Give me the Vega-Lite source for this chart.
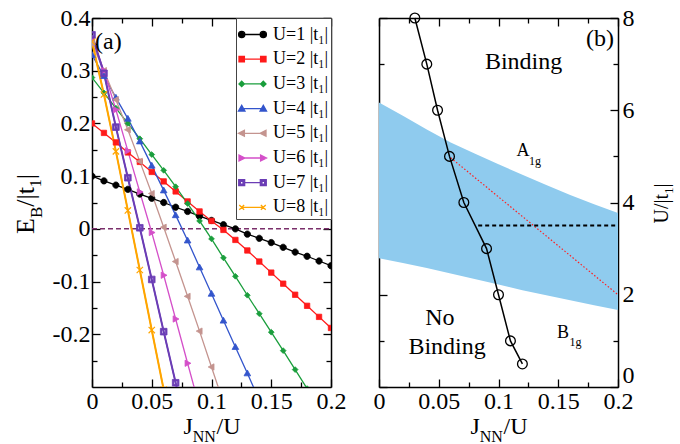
{
  "$schema": "https://vega.github.io/schema/vega-lite/v6.json",
  "padding": {"left": 12, "top": 6, "right": 0, "bottom": 0},
  "spacing": 48,
  "bounds": "flush",
  "config": {
    "view": {"stroke": null},
    "font": "Liberation Serif",
    "axis": {"labelFont": "Liberation Serif", "labelFontSize": 24, "labelColor": "#000", "tickColor": "#000", "tickWidth": 1.3, "domainColor": "#000", "domainWidth": 1.5, "grid": false, "titleFont": "Liberation Serif", "titleFontWeight": "normal", "titleColor": "#000", "labelFlush": false, "labelOverlap": false, "zindex": 1},
    "text": {"font": "Liberation Serif", "color": "#000"}
  },
  "resolve": {"scale": {"color": "independent"}},
  "datasets": {
    "left": [
      {"U":1,"x":0,"E":0.1},{"U":1,"x":0.01,"E":0.091},{"U":1,"x":0.02,"E":0.083},{"U":1,"x":0.03,"E":0.075},{"U":1,"x":0.04,"E":0.066},{"U":1,"x":0.05,"E":0.058},{"U":1,"x":0.06,"E":0.05},{"U":1,"x":0.07,"E":0.041},{"U":1,"x":0.08,"E":0.033},{"U":1,"x":0.09,"E":0.024},{"U":1,"x":0.1,"E":0.016},{"U":1,"x":0.11,"E":0.008},{"U":1,"x":0.12,"E":0.0},{"U":1,"x":0.13,"E":-0.01},{"U":1,"x":0.14,"E":-0.018},{"U":1,"x":0.15,"E":-0.026},{"U":1,"x":0.16,"E":-0.035},{"U":1,"x":0.17,"E":-0.044},{"U":1,"x":0.18,"E":-0.052},{"U":1,"x":0.19,"E":-0.061},{"U":1,"x":0.2,"E":-0.07},
      {"U":2,"x":0,"E":0.2},{"U":2,"x":0.01,"E":0.182},{"U":2,"x":0.02,"E":0.164},{"U":2,"x":0.03,"E":0.145},{"U":2,"x":0.04,"E":0.127},{"U":2,"x":0.05,"E":0.108},{"U":2,"x":0.06,"E":0.09},{"U":2,"x":0.07,"E":0.071},{"U":2,"x":0.08,"E":0.052},{"U":2,"x":0.09,"E":0.033},{"U":2,"x":0.1,"E":0.015},{"U":2,"x":0.11,"E":-0.002},{"U":2,"x":0.12,"E":-0.021},{"U":2,"x":0.13,"E":-0.041},{"U":2,"x":0.14,"E":-0.062},{"U":2,"x":0.15,"E":-0.083},{"U":2,"x":0.16,"E":-0.104},{"U":2,"x":0.17,"E":-0.125},{"U":2,"x":0.18,"E":-0.146},{"U":2,"x":0.19,"E":-0.167},{"U":2,"x":0.2,"E":-0.188},
      {"U":3,"x":0,"E":0.287},{"U":3,"x":0.01,"E":0.258},{"U":3,"x":0.02,"E":0.229},{"U":3,"x":0.03,"E":0.2},{"U":3,"x":0.04,"E":0.171},{"U":3,"x":0.05,"E":0.141},{"U":3,"x":0.06,"E":0.111},{"U":3,"x":0.07,"E":0.08},{"U":3,"x":0.08,"E":0.048},{"U":3,"x":0.09,"E":0.015},{"U":3,"x":0.1,"E":-0.019},{"U":3,"x":0.11,"E":-0.055},{"U":3,"x":0.12,"E":-0.09},{"U":3,"x":0.13,"E":-0.126},{"U":3,"x":0.14,"E":-0.161},{"U":3,"x":0.15,"E":-0.196},{"U":3,"x":0.16,"E":-0.231},{"U":3,"x":0.17,"E":-0.267},{"U":3,"x":0.18,"E":-0.303},
      {"U":4,"x":0,"E":0.33},{"U":4,"x":0.01,"E":0.29},{"U":4,"x":0.02,"E":0.249},{"U":4,"x":0.03,"E":0.209},{"U":4,"x":0.04,"E":0.166},{"U":4,"x":0.05,"E":0.12},{"U":4,"x":0.06,"E":0.073},{"U":4,"x":0.07,"E":0.026},{"U":4,"x":0.08,"E":-0.022},{"U":4,"x":0.09,"E":-0.073},{"U":4,"x":0.1,"E":-0.123},{"U":4,"x":0.11,"E":-0.174},{"U":4,"x":0.12,"E":-0.224},{"U":4,"x":0.13,"E":-0.274},{"U":4,"x":0.14,"E":-0.325},
      {"U":5,"x":0,"E":0.352},{"U":5,"x":0.01,"E":0.3},{"U":5,"x":0.02,"E":0.245},{"U":5,"x":0.03,"E":0.188},{"U":5,"x":0.04,"E":0.128},{"U":5,"x":0.05,"E":0.067},{"U":5,"x":0.06,"E":0.003},{"U":5,"x":0.07,"E":-0.062},{"U":5,"x":0.08,"E":-0.128},{"U":5,"x":0.09,"E":-0.194},{"U":5,"x":0.1,"E":-0.262},{"U":5,"x":0.11,"E":-0.33},
      {"U":6,"x":0,"E":0.362},{"U":6,"x":0.01,"E":0.3},{"U":6,"x":0.02,"E":0.226},{"U":6,"x":0.03,"E":0.148},{"U":6,"x":0.04,"E":0.07},{"U":6,"x":0.05,"E":-0.007},{"U":6,"x":0.06,"E":-0.088},{"U":6,"x":0.07,"E":-0.171},{"U":6,"x":0.08,"E":-0.255},{"U":6,"x":0.09,"E":-0.338},
      {"U":7,"x":0,"E":0.368},{"U":7,"x":0.01,"E":0.295},{"U":7,"x":0.02,"E":0.193},{"U":7,"x":0.03,"E":0.097},{"U":7,"x":0.04,"E":0.002},{"U":7,"x":0.05,"E":-0.096},{"U":7,"x":0.06,"E":-0.195},{"U":7,"x":0.07,"E":-0.292},{"U":7,"x":0.08,"E":-0.39},
      {"U":8,"x":0,"E":0.355},{"U":8,"x":0.01,"E":0.255},{"U":8,"x":0.02,"E":0.147},{"U":8,"x":0.03,"E":0.035},{"U":8,"x":0.04,"E":-0.078},{"U":8,"x":0.05,"E":-0.192},{"U":8,"x":0.06,"E":-0.305}
    ],
    "band": [
      {"J":0,"hi":6.17,"lo":2.79},{"J":0.02,"hi":5.88,"lo":2.69},{"J":0.04,"hi":5.58,"lo":2.58},{"J":0.06,"hi":5.3,"lo":2.46},{"J":0.08,"hi":5.06,"lo":2.34},{"J":0.1,"hi":4.83,"lo":2.22},{"J":0.12,"hi":4.6,"lo":2.1},{"J":0.14,"hi":4.38,"lo":1.99},{"J":0.16,"hi":4.16,"lo":1.88},{"J":0.18,"hi":3.96,"lo":1.77},{"J":0.2,"hi":3.77,"lo":1.67}
    ],
    "crit": [
      {"J":0.03,"U":8},{"J":0.04,"U":7},{"J":0.049,"U":6},{"J":0.059,"U":5},{"J":0.071,"U":4},{"J":0.09,"U":3},{"J":0.1,"U":2},{"J":0.11,"U":1},{"J":0.12,"U":0.5}
    ],
    "dotted": [{"J":0.06,"U":4.97},{"J":0.2,"U":2.0}],
    "dashed": [{"J":0.083,"U":3.5},{"J":0.2,"U":3.5}],
    "big": [{"J":0.121,"U":7.04,"t":"Binding"},{"J":0.051,"U":1.49,"t":"No"},{"J":0.057,"U":0.87,"t":"Binding"},{"J":0.185,"U":7.54,"t":"(b)"}],
    "mid": [{"J":0.1205,"U":5.11,"t":"A"},{"J":0.154,"U":1.16,"t":"B"}],
    "sub": [{"J":0.1255,"U":4.9,"t":"1g"},{"J":0.1594,"U":0.97,"t":"1g"}]
  },
  "hconcat": [
    {
      "width": 239,
      "height": 369,
      "resolve": {"axis": {"x": "independent", "y": "independent"}},
      "layer": [
        {
          "data": {"values": [{}]},
          "mark": {"type": "rule", "color": "#7a2f6b", "strokeDash": [5, 3], "strokeWidth": 1.5},
          "encoding": {
            "y": {"datum": 0, "type": "quantitative", "axis": {"orient": "left", "values": [-0.25, -0.15, -0.05, 0.05, 0.15, 0.25, 0.35], "tickSize": -5, "labels": false, "domain": false, "title": "B", "titleFontSize": 17, "titleAngle": -90, "titleAlign": "left", "titleBaseline": "alphabetic", "titleX": -51, "titleY": 199.6}},
            "x": {"datum": 0, "type": "quantitative", "axis": {"orient": "top", "values": [0.025, 0.075, 0.125, 0.175], "tickSize": -5, "labels": false, "domain": false, "title": "/U", "titleFontSize": 24, "titleAngle": 0, "titleAlign": "left", "titleBaseline": "alphabetic", "titleX": 124, "titleY": 415.5}},
            "x2": {"datum": 0.2}
          }
        },
        {
          "data": {"name": "left"},
          "mark": {"type": "line", "clip": true, "strokeWidth": 1.3},
          "encoding": {
            "x": {"field": "x", "type": "quantitative", "scale": {"domain": [0, 0.2], "nice": false, "zero": false},
                  "axis": {"orient": "bottom", "values": [0, 0.05, 0.1, 0.15, 0.2], "tickSize": -8, "labelPadding": 10, "labelExpr": "datum.value == 0 ? '0' : format(datum.value, '~g')", "title": "J", "titleFontSize": 24, "titleAngle": 0, "titleAlign": "left", "titleBaseline": "alphabetic", "titleX": 91, "titleY": 46.5}},
            "y": {"field": "E", "type": "quantitative", "scale": {"domain": [-0.3, 0.4], "nice": false, "zero": false},
                  "axis": {"orient": "left", "values": [-0.2, -0.1, 0, 0.1, 0.2, 0.3, 0.4], "tickSize": -8, "labelPadding": 10, "labelExpr": "datum.value == 0 ? '0' : (datum.value < 0 ? '-' : '') + format(abs(datum.value), '.1f')", "title": "E", "titleFontSize": 26, "titleAngle": -90, "titleAlign": "left", "titleBaseline": "alphabetic", "titleX": -59, "titleY": 215.5}},
            "color": {"field": "U", "type": "ordinal",
                      "scale": {"domain": [1, 2, 3, 4, 5, 6, 7, 8], "range": ["#000000", "#ff1a1a", "#1a9e3c", "#3355cc", "#c4948f", "#d44fc9", "#6b3db5", "#ffa500"]},
                      "legend": {
                        "title": null, "orient": "top-right", "offset": 0, "padding": 2, "strokeColor": "#444", "fillColor": "#ffffff",
                        "symbolSize": 729, "symbolStrokeWidth": 1.3,
                        "labelFont": "Liberation Serif", "labelFontSize": 18, "labelColor": "#000", "labelOffset": 6, "rowPadding": 0.7,
                        "labelExpr": "'U=' + datum.label + ' |t₁|'",
                        "encode": {"symbols": {"update": {
                          "shape": {"signal": "['M-0.8,0H0.8M-1.03,0A0.23,0.23,0,1,1,-0.57,0A0.23,0.23,0,1,1,-1.03,0ZM0.57,0A0.23,0.23,0,1,1,1.03,0A0.23,0.23,0,1,1,0.57,0Z','M-0.8,0H0.8M-1,-0.2H-0.6V0.2H-1ZM0.6,-0.2H1V0.2H0.6Z','M-0.8,0H0.8M-0.8,-0.2L-0.6,0L-0.8,0.2L-1,0ZM0.8,-0.2L1,0L0.8,0.2L0.6,0Z','M-0.8,0H0.8M-0.8,-0.24L-0.56,0.18H-1.04ZM0.8,-0.24L1.04,0.18H0.56Z','M-0.8,0H0.8M-1.04,0L-0.6,-0.22V0.22ZM0.56,0L1,-0.22V0.22Z','M-0.8,0H0.8M-0.56,0L-1,-0.22V0.22ZM1.04,0L0.6,-0.22V0.22Z','M-0.58,0H0.58M-1.02,-0.22H-0.58V0.22H-1.02ZM-0.9,-0.1V0.1H-0.7V-0.1ZM0.58,-0.22H1.02V0.22H0.58ZM0.7,-0.1V0.1H0.9V-0.1Z','M-0.8,0H0.8M-0.98,-0.18L-0.62,0.18M-0.98,0.18L-0.62,-0.18M0.62,-0.18L0.98,0.18M0.62,0.18L0.98,-0.18'][datum.index]"},
                          "fill": {"signal": "['#000000','#ff1a1a','#1a9e3c','#3355cc','#c4948f','#d44fc9','#6b3db5','#ffa500'][datum.index]"},
                          "opacity": {"value": 1}
                        }}}
                      }}
          }
        },
        {
          "data": {"name": "left"},
          "transform": [{"filter": "datum.U >= 7"}],
          "mark": {"type": "line", "clip": true, "strokeWidth": 2},
          "encoding": {
            "x": {"field": "x", "type": "quantitative", "axis": null},
            "y": {"field": "E", "type": "quantitative", "axis": null},
            "color": {"field": "U", "type": "ordinal", "legend": null}
          }
        },
        {
          "data": {"name": "left"},
          "transform": [{"filter": "datum.U == 1"}],
          "mark": {"type": "point", "filled": true, "clip": true, "size": 40, "strokeWidth": 0.8, "opacity": 1, "fill": "#000000", "stroke": "#000000", "shape": "M-1,0A1,1,0,1,1,1,0A1,1,0,1,1,-1,0Z"},
          "encoding": {
            "x": {"field": "x", "type": "quantitative", "axis": {"orient": "top", "values": [0, 0.05, 0.1, 0.15, 0.2], "tickSize": -8, "labels": false, "title": "1", "titleFontSize": 16, "titleAngle": -90, "titleAlign": "left", "titleBaseline": "alphabetic", "titleX": -52, "titleY": 168.7}},
            "y": {"field": "E", "type": "quantitative", "axis": {"orient": "right", "values": [-0.2, -0.1, 0, 0.1, 0.2, 0.3, 0.4], "tickSize": -8, "labels": false, "title": "|", "titleFontSize": 26, "titleAngle": -90, "titleAlign": "left", "titleBaseline": "alphabetic", "titleX": -298, "titleY": 160.7}}
          }
        },
        {
          "data": {"name": "left"},
          "transform": [{"filter": "datum.U == 2"}],
          "mark": {"type": "point", "filled": true, "clip": true, "size": 40, "strokeWidth": 0.8, "opacity": 1, "fill": "#ff1a1a", "stroke": "#ff1a1a", "shape": "M-0.85,-0.85H0.85V0.85H-0.85Z"},
          "encoding": {"x": {"field": "x", "type": "quantitative", "axis": null}, "y": {"field": "E", "type": "quantitative", "axis": null}}
        },
        {
          "data": {"name": "left"},
          "transform": [{"filter": "datum.U == 3"}],
          "mark": {"type": "point", "filled": true, "clip": true, "size": 40, "strokeWidth": 0.8, "opacity": 1, "fill": "#1a9e3c", "stroke": "#1a9e3c", "shape": "M0,-0.9L0.9,0L0,0.9L-0.9,0Z"},
          "encoding": {"x": {"field": "x", "type": "quantitative", "axis": null}, "y": {"field": "E", "type": "quantitative", "axis": null}}
        },
        {
          "data": {"name": "left"},
          "transform": [{"filter": "datum.U == 4"}],
          "mark": {"type": "point", "filled": true, "clip": true, "size": 40, "strokeWidth": 0.8, "opacity": 1, "fill": "#3355cc", "stroke": "#3355cc", "shape": "M0,-1.05L1.05,0.8H-1.05Z"},
          "encoding": {"x": {"field": "x", "type": "quantitative", "axis": null}, "y": {"field": "E", "type": "quantitative", "axis": null}}
        },
        {
          "data": {"name": "left"},
          "transform": [{"filter": "datum.U == 5"}],
          "mark": {"type": "point", "filled": true, "clip": true, "size": 40, "strokeWidth": 0.8, "opacity": 1, "fill": "#c4948f", "stroke": "#c4948f", "shape": "M-1.05,0L0.8,-1V1Z"},
          "encoding": {"x": {"field": "x", "type": "quantitative", "axis": null}, "y": {"field": "E", "type": "quantitative", "axis": null}}
        },
        {
          "data": {"name": "left"},
          "transform": [{"filter": "datum.U == 6"}],
          "mark": {"type": "point", "filled": true, "clip": true, "size": 40, "strokeWidth": 0.8, "opacity": 1, "fill": "#d44fc9", "stroke": "#d44fc9", "shape": "M1.05,0L-0.8,-1V1Z"},
          "encoding": {"x": {"field": "x", "type": "quantitative", "axis": null}, "y": {"field": "E", "type": "quantitative", "axis": null}}
        },
        {
          "data": {"name": "left"},
          "transform": [{"filter": "datum.U == 7"}],
          "mark": {"type": "point", "filled": true, "clip": true, "size": 40, "strokeWidth": 0.8, "opacity": 1, "fill": "#6b3db5", "stroke": "#6b3db5", "shape": "M-1.05,-1.05H1.05V1.05H-1.05ZM-0.55,-0.55V0.55H0.55V-0.55Z"},
          "encoding": {"x": {"field": "x", "type": "quantitative", "axis": null}, "y": {"field": "E", "type": "quantitative", "axis": null}}
        },
        {
          "data": {"name": "left"},
          "transform": [{"filter": "datum.U == 8"}],
          "mark": {"type": "point", "filled": true, "clip": true, "size": 40, "strokeWidth": 1.2, "opacity": 1, "fill": "#ffa500", "stroke": "#ffa500", "shape": "M-1,-1L1,1M-1,1L1,-1"},
          "encoding": {"x": {"field": "x", "type": "quantitative", "axis": null}, "y": {"field": "E", "type": "quantitative", "axis": null}}
        },
        {
          "data": {"values": [{"x": 0.0025, "E": 0.355, "t": "(a)"}]},
          "mark": {"type": "text", "align": "left", "baseline": "middle", "fontSize": 24, "font": "Liberation Serif"},
          "encoding": {
            "x": {"field": "x", "type": "quantitative", "axis": {"orient": "bottom", "values": [0.025, 0.075, 0.125, 0.175], "tickSize": -5, "labels": false, "domain": false, "title": "NN", "titleFontSize": 16, "titleAngle": 0, "titleAlign": "left", "titleBaseline": "alphabetic", "titleX": 100.3, "titleY": 54}},
            "y": {"field": "E", "type": "quantitative", "axis": {"orient": "right", "values": [-0.25, -0.15, -0.05, 0.05, 0.15, 0.25, 0.35], "tickSize": -5, "labels": false, "domain": false, "title": "/|t", "titleFontSize": 26, "titleAngle": -90, "titleAlign": "left", "titleBaseline": "alphabetic", "titleX": -298, "titleY": 188.3}},
            "text": {"field": "t"}
          }
        }
      ]
    },
    {
      "width": 239,
      "height": 369,
      "resolve": {"axis": {"x": "independent", "y": "independent"}},
      "layer": [
        {
          "data": {"name": "band"},
          "mark": {"type": "area", "color": "#8fcbee", "opacity": 1},
          "encoding": {
            "x": {"field": "J", "type": "quantitative", "scale": {"domain": [0, 0.2], "nice": false, "zero": false},
                  "axis": {"orient": "bottom", "values": [0, 0.05, 0.1, 0.15, 0.2], "tickSize": -8, "labelPadding": 10, "labelExpr": "datum.value == 0 ? '0' : format(datum.value, '~g')", "title": "J", "titleFontSize": 24, "titleAngle": 0, "titleAlign": "left", "titleBaseline": "alphabetic", "titleX": 91, "titleY": 46.5}},
            "y": {"field": "hi", "type": "quantitative", "scale": {"domain": [0, 8], "nice": false, "zero": false},
                  "axis": {"orient": "right", "values": [0, 2, 4, 6, 8], "tickSize": -8, "labelPadding": 12, "labelBaseline": {"condition": {"test": "datum.value == 0", "value": "bottom"}, "value": "middle"}, "title": "U/|t", "titleFontSize": 20, "titleAngle": -90, "titleAlign": "left", "titleBaseline": "alphabetic", "titleX": 49, "titleY": 205}},
            "y2": {"field": "lo"}
          }
        },
        {
          "data": {"name": "dotted"},
          "mark": {"type": "line", "color": "#ff2020", "strokeDash": [1.5, 2], "strokeWidth": 1.2},
          "encoding": {
            "x": {"field": "J", "type": "quantitative", "axis": {"orient": "top", "values": [0.025, 0.075, 0.125, 0.175], "tickSize": -5, "labels": false, "domain": false, "title": "/U", "titleFontSize": 24, "titleAngle": 0, "titleAlign": "left", "titleBaseline": "alphabetic", "titleX": 124, "titleY": 415.5}},
            "y": {"field": "U", "type": "quantitative", "axis": {"orient": "right", "values": [1, 3, 5, 7], "tickSize": -5, "labels": false, "domain": false, "title": "1", "titleFontSize": 13, "titleAngle": -90, "titleAlign": "left", "titleBaseline": "alphabetic", "titleX": 54, "titleY": 175.4}}
          }
        },
        {
          "data": {"name": "dashed"},
          "mark": {"type": "line", "color": "#000", "strokeDash": [4, 3], "strokeWidth": 2},
          "encoding": {
            "x": {"field": "J", "type": "quantitative", "axis": null},
            "y": {"field": "U", "type": "quantitative", "axis": null}
          }
        },
        {
          "data": {"name": "crit"},
          "mark": {"type": "line", "color": "#000", "strokeWidth": 1.5},
          "encoding": {
            "x": {"field": "J", "type": "quantitative", "axis": {"orient": "bottom", "values": [0.025, 0.075, 0.125, 0.175], "tickSize": -5, "labels": false, "domain": false, "title": "NN", "titleFontSize": 16, "titleAngle": 0, "titleAlign": "left", "titleBaseline": "alphabetic", "titleX": 100.3, "titleY": 54}},
            "y": {"field": "U", "type": "quantitative", "axis": {"orient": "left", "values": [0, 2, 4, 6, 8], "tickSize": -8, "labels": false, "title": null}}
          }
        },
        {
          "data": {"name": "crit"},
          "mark": {"type": "point", "shape": "circle", "size": 95, "color": "#000", "strokeWidth": 1.3, "filled": false, "opacity": 1},
          "encoding": {
            "x": {"field": "J", "type": "quantitative", "axis": {"orient": "top", "values": [0, 0.05, 0.1, 0.15, 0.2], "tickSize": -8, "labels": false, "title": "|", "titleFontSize": 20, "titleAngle": -90, "titleAlign": "left", "titleBaseline": "alphabetic", "titleX": 288, "titleY": 168.9}},
            "y": {"field": "U", "type": "quantitative", "axis": {"orient": "left", "values": [1, 3, 5, 7], "tickSize": -5, "labels": false, "domain": false, "title": null}}
          }
        },
        {
          "data": {"name": "big"},
          "mark": {"type": "text", "align": "center", "baseline": "middle", "fontSize": 24, "font": "Liberation Serif"},
          "encoding": {
            "x": {"field": "J", "type": "quantitative", "axis": null},
            "y": {"field": "U", "type": "quantitative", "axis": null},
            "text": {"field": "t"}
          }
        },
        {
          "data": {"name": "mid"},
          "mark": {"type": "text", "align": "center", "baseline": "middle", "fontSize": 18, "font": "Liberation Serif"},
          "encoding": {
            "x": {"field": "J", "type": "quantitative", "axis": null},
            "y": {"field": "U", "type": "quantitative", "axis": null},
            "text": {"field": "t"}
          }
        },
        {
          "data": {"name": "sub"},
          "mark": {"type": "text", "align": "left", "baseline": "middle", "fontSize": 12, "font": "Liberation Serif"},
          "encoding": {
            "x": {"field": "J", "type": "quantitative", "axis": null},
            "y": {"field": "U", "type": "quantitative", "axis": null},
            "text": {"field": "t"}
          }
        }
      ]
    }
  ]
}
